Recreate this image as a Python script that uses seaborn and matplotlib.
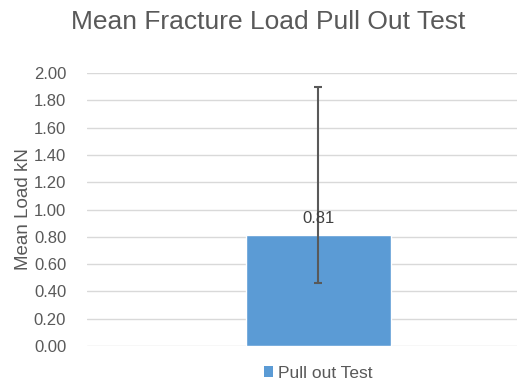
import matplotlib
matplotlib.use("Agg")
import matplotlib.pyplot as plt
import seaborn as sns
import pandas as pd
from matplotlib.patches import Patch

# Data
categories = ["Pull out Test"]
mean_load = [0.81]
lower_bound = [0.46]
upper_bound = [1.90]
y_ticks = [0.0, 0.2, 0.4, 0.6, 0.8, 1.0, 1.2, 1.4, 1.6, 1.8, 2.0]

bar_color = "#5B9BD5"
text_color = "#595959"
grid_color = "#D9D9D9"

sns.set_theme(style="white")
plt.rcParams["font.family"] = ["Liberation Sans", "DejaVu Sans"]

df = pd.DataFrame({"Test": categories, "Load": mean_load})

fig = plt.figure(figsize=(5.17, 3.81), dpi=100)
ax = fig.add_axes([87 / 517, 35 / 381, 430 / 517, 273 / 381])

sns.barplot(data=df, x="Test", y="Load", color=bar_color, width=0.6,
            errorbar=None, ax=ax, saturation=1, zorder=3)

err_low = [m - lo for m, lo in zip(mean_load, lower_bound)]
err_high = [hi - m for m, hi in zip(mean_load, upper_bound)]
ax.errorbar(range(len(categories)), mean_load, yerr=[err_low, err_high],
            fmt="none", ecolor=text_color, elinewidth=1.5, capsize=3.2,
            capthick=1.5, zorder=4)

for i, v in enumerate(mean_load):
    ax.text(i, v + 0.07, f"{v:.2f}", ha="center", va="bottom",
            fontsize=12, color="#404040", zorder=5)

ax.set_xlim(-0.956, 0.823)
ax.set_ylim(0, 2.0)
ax.set_yticks(y_ticks)
ax.set_yticklabels([f"{t:.2f}" for t in y_ticks], fontsize=12, color=text_color)
ax.tick_params(axis="y", length=0, pad=15)
ax.set_xticks([])
ax.set_xlabel("")
ax.set_ylabel("Mean Load kN", fontsize=13.5, color=text_color, labelpad=1)

for s in ax.spines.values():
    s.set_visible(False)
ax.yaxis.grid(True, color=grid_color, linewidth=1.0, zorder=0)
ax.set_axisbelow(True)

fig.text(268 / 517, 1 - 22 / 381, "Mean Fracture Load Pull Out Test",
         ha="center", va="center", fontsize=19, color=text_color)

handle = Patch(facecolor=bar_color, edgecolor="none")
fig.legend([handle], categories, loc="center", bbox_to_anchor=(318 / 517, 1 - 373 / 381),
           frameon=False, fontsize=12.5, handlelength=0.55, handleheight=0.55,
           handletextpad=0.25, labelcolor=text_color)

fig.savefig("out.png", dpi=100)
